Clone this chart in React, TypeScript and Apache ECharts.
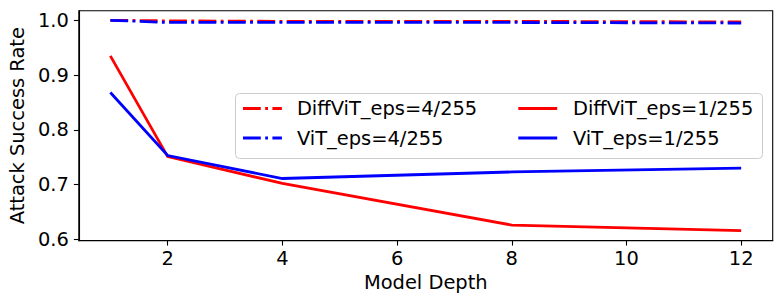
import React, { useEffect, useRef } from "react";
import * as echarts from "echarts";

const depths = [1, 2, 4, 8, 12];
const diffVit4 = [1.0, 0.999, 0.998, 0.998, 0.997];
const vit4 = [1.0, 0.996, 0.996, 0.996, 0.995];
const diffVit1 = [0.935, 0.751, 0.702, 0.626, 0.616];
const vit1 = [0.868, 0.753, 0.711, 0.723, 0.73];
const xTicks = [2, 4, 6, 8, 10, 12];
const yTicks = [0.6, 0.7, 0.8, 0.9, 1.0];
const names = ["DiffViT_eps=4/255", "ViT_eps=4/255", "DiffViT_eps=1/255", "ViT_eps=1/255"];

const FONT = "DejaVu Sans";
const FS = 19.44;
const LW = 2.78;
const DASHDOT = [17.8, 4.4, 2.8, 4.4];
const ICON_DASHDOT = "path://M0,0h17.8v2.8h-17.8z M22.2,0h2.8v2.8h-2.8z M29.4,0h9.5v2.8h-9.5z";
const ICON_SOLID = "path://M0,0h38.9v2.8h-38.9z";

export default function App() {
  const ref = useRef<HTMLDivElement>(null);
  useEffect(() => {
    if (!ref.current) return;
    const chart = echarts.init(ref.current, null, { renderer: "svg" });
    const pairs = (ys: number[]) => depths.map((d, i) => [d, ys[i]]);
    const mk = (name: string, ys: number[], color: string, dash: any, z: number) => ({
      name,
      type: "line",
      data: pairs(ys),
      symbol: "none",
      showSymbol: false,
      z,
      lineStyle: { color, width: LW, type: dash, cap: "butt", join: "miter" },
      itemStyle: { color },
      emphasis: { disabled: true },
    });
    const legendCommon = {
      orient: "vertical",
      top: 97.5,
      padding: 0,
      itemWidth: 38.9,
      itemHeight: 2.8,
      itemGap: 7.5,
      z: 10,
      selectedMode: false,
      symbolKeepAspect: false,
      textStyle: {
        fontFamily: FONT,
        fontSize: FS,
        color: "#000",
        lineHeight: 22,
        padding: [0, 0, 0, 10],
      },
    };
    chart.setOption({
      animation: false,
      textStyle: { fontFamily: FONT },
      grid: {
        left: 75.3,
        right: 9.3,
        top: 10.7,
        bottom: 63.3,
        show: true,
        borderColor: "#000",
        borderWidth: 1.1,
        backgroundColor: "transparent",
      },
      xAxis: {
        type: "value",
        min: 0.45,
        max: 12.55,
        name: "Model Depth",
        nameLocation: "middle",
        nameGap: 32,
        nameTextStyle: { fontFamily: FONT, fontSize: FS, color: "#000" },
        axisLine: { show: true, lineStyle: { color: "#000", width: 1.1 } },
        axisTick: { show: true, length: 4.9, inside: false, customValues: xTicks, lineStyle: { color: "#000", width: 1.1 } },
        axisLabel: {
          customValues: xTicks,
          margin: 8,
          fontFamily: FONT,
          fontSize: FS,
          color: "#000",
          formatter: (v: number) => String(v),
        },
        splitLine: { show: false },
      },
      yAxis: {
        type: "value",
        min: 0.5974,
        max: 1.0175,
        name: "Attack Success Rate",
        nameLocation: "middle",
        nameGap: 48,
        nameTextStyle: { fontFamily: FONT, fontSize: FS, color: "#000" },
        axisLine: { show: true, lineStyle: { color: "#000", width: 1.1 } },
        axisTick: { show: true, length: 4.9, inside: false, customValues: yTicks, lineStyle: { color: "#000", width: 1.1 } },
        axisLabel: {
          customValues: yTicks,
          margin: 10,
          fontFamily: FONT,
          fontSize: FS,
          color: "#000",
          formatter: (v: number) => v.toFixed(1),
        },
        splitLine: { show: false },
      },
      graphic: [
        {
          type: "rect",
          z: 5,
          shape: { x: 235.5, y: 93.5, width: 527, height: 65, r: 4 },
          style: { fill: "rgba(255,255,255,0.8)", stroke: "#cccccc", lineWidth: 1 },
        },
      ],
      legend: [
        {
          ...legendCommon,
          left: 243,
          data: [
            { name: names[0], icon: ICON_DASHDOT },
            { name: names[1], icon: ICON_DASHDOT },
          ],
        },
        {
          ...legendCommon,
          left: 518.3,
          textStyle: { ...legendCommon.textStyle, padding: [0, 0, 0, 10.8] },
          data: [
            { name: names[2], icon: ICON_SOLID },
            { name: names[3], icon: ICON_SOLID },
          ],
        },
      ],
      series: [
        mk(names[0], diffVit4, "#ff0000", DASHDOT, 2),
        mk(names[1], vit4, "#0000ff", DASHDOT, 3),
        mk(names[2], diffVit1, "#ff0000", "solid", 2),
        mk(names[3], vit1, "#0000ff", "solid", 3),
      ],
    });
    return () => chart.dispose();
  }, []);
  return (
    <div
      ref={ref}
      style={{ position: "fixed", left: 0, top: 0, width: 782, height: 304, background: "#fff" }}
    />
  );
}
